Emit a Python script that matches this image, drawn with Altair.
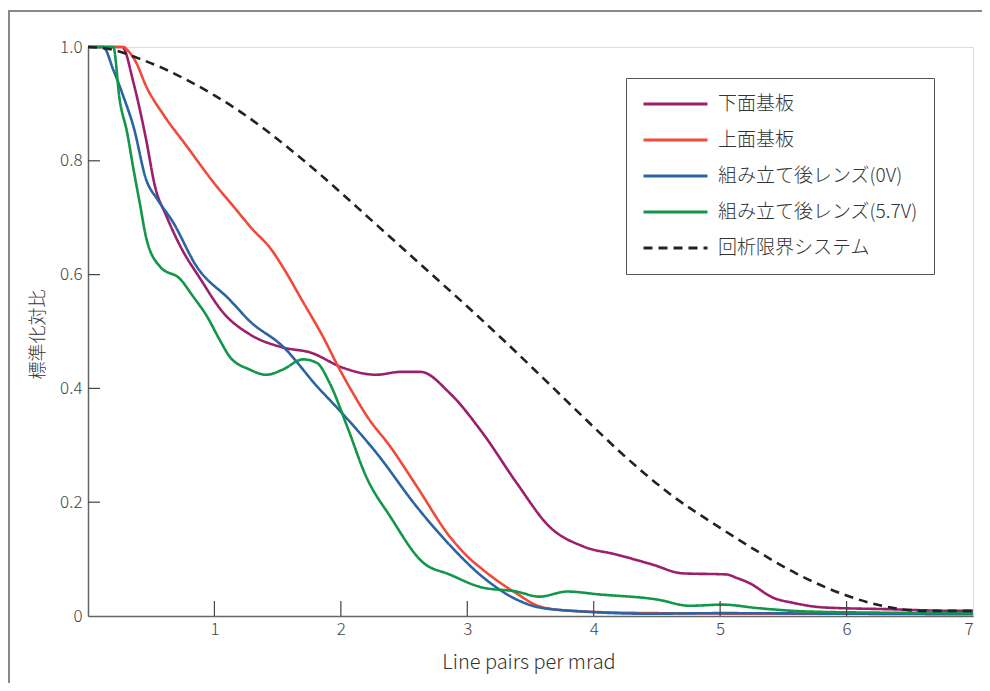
import altair as alt
import pandas as pd

FONT = "Noto Sans CJK JP"

series_names = ["下面基板", "上面基板", "組み立て後レンズ(0V)", "組み立て後レンズ(5.7V)", "回析限界システム"]
series_colors = ["#9C1F6B", "#F04A3A", "#2A64A4", "#12974A", "#222222"]
series_dash = [[1, 0], [1, 0], [1, 0], [1, 0], [9, 6]]

# 下面基板
lower_x = [0.0, 0.27, 0.36, 0.41, 0.46, 0.53, 0.62, 0.73, 0.89, 1.07, 1.28, 1.54, 1.76, 2.02, 2.28,
           2.47, 2.63, 2.86, 3.12, 3.39, 3.65, 3.92, 4.18, 4.47, 4.70, 5.05, 5.13, 5.23, 5.42, 5.58,
           5.82, 6.32, 6.87, 7.0]
lower_y = [1.0, 1.0, 0.937, 0.89, 0.837, 0.755, 0.703, 0.65, 0.592, 0.533, 0.495, 0.472, 0.463, 0.436,
           0.424, 0.429, 0.429, 0.392, 0.322, 0.234, 0.157, 0.122, 0.108, 0.090, 0.075, 0.073, 0.067,
           0.058, 0.032, 0.023, 0.015, 0.012, 0.009, 0.009]

# 上面基板
upper_x = [0.0, 0.28, 0.31, 0.38, 0.46, 0.6, 0.78, 1.0, 1.15, 1.3, 1.44, 1.55, 1.69, 1.87, 1.97, 2.1,
           2.21, 2.39, 2.6, 2.86, 3.0, 3.12, 3.38, 3.6, 3.91, 4.5, 5.5, 7.0]
upper_y = [1.0, 1.0, 0.995, 0.973, 0.931, 0.88, 0.826, 0.76, 0.72, 0.68, 0.647, 0.61, 0.556, 0.486,
           0.442, 0.39, 0.35, 0.298, 0.228, 0.14, 0.105, 0.082, 0.041, 0.015, 0.008, 0.005, 0.004, 0.004]

# 組み立て後レンズ(0V)
lens0_x = [0.0, 0.12, 0.20, 0.28, 0.36, 0.46, 0.55, 0.67, 0.86, 1.12, 1.28, 1.54, 1.81, 2.02, 2.28,
           2.60, 2.86, 3.12, 3.39, 3.57, 3.91, 4.44, 5.0, 6.0, 7.0]
lens0_y = [1.0, 1.0, 0.96, 0.913, 0.86, 0.767, 0.732, 0.693, 0.614, 0.556, 0.518, 0.474, 0.404, 0.354,
           0.287, 0.192, 0.125, 0.069, 0.029, 0.015, 0.008, 0.004, 0.005, 0.004, 0.003]

# 組み立て後レンズ(5.7V)
lens57_x = [0.0, 0.20, 0.25, 0.31, 0.36, 0.41, 0.46, 0.57, 0.73, 0.83, 0.94, 1.04, 1.12, 1.28, 1.41,
            1.54, 1.70, 1.81, 1.91, 2.05, 2.20, 2.39, 2.65, 2.86, 3.12, 3.39, 3.57, 3.79, 4.04, 4.50,
            4.76, 5.02, 5.29, 5.68, 6.2, 7.0]
lens57_y = [1.0, 1.0, 0.908, 0.849, 0.785, 0.725, 0.665, 0.614, 0.592, 0.562, 0.527, 0.486, 0.456,
            0.433, 0.424, 0.433, 0.451, 0.445, 0.410, 0.333, 0.245, 0.175, 0.094, 0.073, 0.050, 0.043,
            0.034, 0.043, 0.038, 0.029, 0.018, 0.020, 0.014, 0.008, 0.006, 0.005]

# 回析限界システム
diff_x = [0.0, 0.2, 0.4, 0.6, 0.8, 1.0, 1.2, 1.4, 1.6, 1.8, 2.0, 2.2, 2.4, 2.6, 2.8, 3.0, 3.3, 3.6,
          4.0, 4.2, 4.6, 5.0, 5.3, 5.6, 6.0, 6.3, 6.6, 7.0]
diff_y = [1.0, 0.995, 0.98, 0.962, 0.94, 0.915, 0.887, 0.855, 0.82, 0.783, 0.744, 0.704, 0.664, 0.624,
          0.584, 0.544, 0.482, 0.418, 0.332, 0.29, 0.215, 0.155, 0.113, 0.075, 0.036, 0.017, 0.009, 0.009]

x_tick_values = [1, 2, 3, 4, 5, 6, 7]
y_tick_values = [0, 0.2, 0.4, 0.6, 0.8, 1.0]
x_inner_ticks = [1, 2, 3, 4, 5, 6]
y_inner_ticks = [0.2, 0.4, 0.6, 0.8]

W, H = 885, 569

rows = []
for name, xs, ys in zip(series_names,
                        [lower_x, upper_x, lens0_x, lens57_x, diff_x],
                        [lower_y, upper_y, lens0_y, lens57_y, diff_y]):
    for i, (a, b) in enumerate(zip(xs, ys)):
        rows.append({"series": name, "x": a, "y": b, "order": i})
df = pd.DataFrame(rows)

xscale = alt.Scale(domain=[0, 7], nice=False, zero=False)
yscale = alt.Scale(domain=[0, 1], nice=False)

lines = alt.Chart(df).mark_line(strokeWidth=2.6, interpolate="monotone").encode(
    x=alt.X("x:Q", scale=xscale,
            axis=alt.Axis(values=x_tick_values, format="d", ticks=False, grid=False,
                          domainColor="#666666", domainWidth=1.5, labelFontSize=17,
                          labelFontWeight=300,
                          labelColor="#444444", labelPadding=5, labelFont=FONT,
                          title="Line pairs per mrad", titleFont=FONT,
                          titleFontSize=20, titleFontWeight=300, titleColor="#333333",
                          titleX=W / 2 - 2, titleY=46, titleBaseline="middle")),
    y=alt.Y("y:Q", scale=yscale,
            axis=alt.Axis(values=y_tick_values, ticks=False, grid=False, domainColor="#666666",
                          domainWidth=1.5, labelFontSize=17, labelFontWeight=300,
                          labelColor="#444444", labelPadding=6,
                          labelFont=FONT, labelFlush=False,
                          labelExpr="datum.value == 0 ? '0' : format(datum.value, '.1f')",
                          title="標準化対比", titleFont=FONT, titleFontSize=18,
                          titleFontWeight=300, titleColor="#333333",
                          titleX=-50, titleY=287, titleBaseline="middle", titleAlign="center")),
    color=alt.Color("series:N", scale=alt.Scale(domain=series_names, range=series_colors),
                    legend=alt.Legend(title=None, orient="none", legendX=538, legendY=31,
                                      strokeColor="#555555", fillColor="#ffffff", padding=16,
                                      symbolType="stroke", symbolSize=4096, symbolStrokeWidth=3,
                                      labelFont=FONT, labelFontSize=19, labelFontWeight=300,
                                      labelColor="#333333",
                                      labelOffset=9, rowPadding=16, clipHeight=20, labelLimit=400)),
    strokeDash=alt.StrokeDash("series:N", scale=alt.Scale(domain=series_names, range=series_dash),
                              legend=alt.Legend(title=None)),
    order="order:Q",
)

xt = pd.DataFrame({"v": x_inner_ticks})
yt = pd.DataFrame({"v": y_inner_ticks})

xticks = alt.Chart(xt).mark_rule(color="#444444", strokeWidth=1.2).encode(
    x=alt.X("v:Q", scale=xscale), y=alt.value(H), y2=alt.value(H - 15))
yticks = alt.Chart(yt).mark_rule(color="#444444", strokeWidth=1.2).encode(
    y=alt.Y("v:Q", scale=yscale), x=alt.value(0), x2=alt.value(12))

frame_top = alt.Chart(xt).mark_rule(color="#888888", strokeWidth=2).encode(
    x=alt.value(-80), x2=alt.value(W + 40), y=alt.value(-36))
frame_left = alt.Chart(xt).mark_rule(color="#888888", strokeWidth=2).encode(
    x=alt.value(-79), y=alt.value(-36), y2=alt.value(H + 80))

chart = alt.layer(frame_top, frame_left, lines, xticks, yticks).properties(
    width=W, height=H,
    autosize=alt.AutoSizeParams(type="none"),
    padding={"left": 80, "top": 39, "right": 9, "bottom": 67},
).configure_view(stroke="#333333", strokeWidth=1.5).configure(background="#ffffff")

chart.save("out.html", embed_options={"renderer": "svg", "actions": False})
